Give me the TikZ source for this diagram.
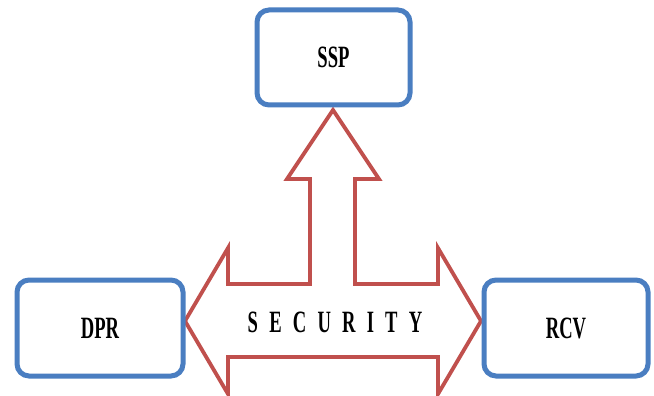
\documentclass[tikz,border=0pt]{standalone}
\usepackage{fontspec}
\usepackage{graphicx}
\setmainfont{Liberation Serif}
\definecolor{boxblue}{RGB}{74,126,193}
\definecolor{arrowred}{RGB}{192,80,77}
\newcommand{\narrow}[1]{\scalebox{0.6}[1]{\bfseries\fontsize{31}{31}\selectfont #1}}
\newcommand{\lsp}{\hspace{11.2pt}}
\tikzset{
  box/.style={draw=boxblue, line width=5pt, rounded corners=12pt, fill=white, inner sep=0pt},
  blockarrow/.style={draw=arrowred, line width=3.8pt, line join=miter, fill=white},
}
\begin{document}
\begin{tikzpicture}[x=1pt,y=-1pt]
\useasboundingbox (0,0) rectangle (654,396);
% block arrow
\draw[blockarrow] (333,110) -- (379,179) -- (355,179) -- (355,284) -- (438,284) -- (438,248)
  -- (481,321) -- (438,394) -- (438,357) -- (228,357) -- (228,394) -- (185,321)
  -- (228,248) -- (228,284) -- (310,284) -- (310,179) -- (287,179) -- cycle;
% boxes
\node[box, minimum width=153pt, minimum height=95pt] (ssp) at (333.5,57.5) {\narrow{SSP}};
\node[box, minimum width=166pt, minimum height=96pt] (dpr) at (100,328) {\narrow{DPR}};
\node[box, minimum width=164pt, minimum height=96pt] (rcv) at (566,328) {\narrow{RCV}};
\node[inner sep=0pt] (sec) at (335,322) {\narrow{S}\lsp\narrow{E}\lsp\narrow{C}\lsp\narrow{U}\lsp\narrow{R}\lsp\narrow{I}\lsp\narrow{T}\lsp\narrow{Y}};
\end{tikzpicture}
\end{document}
